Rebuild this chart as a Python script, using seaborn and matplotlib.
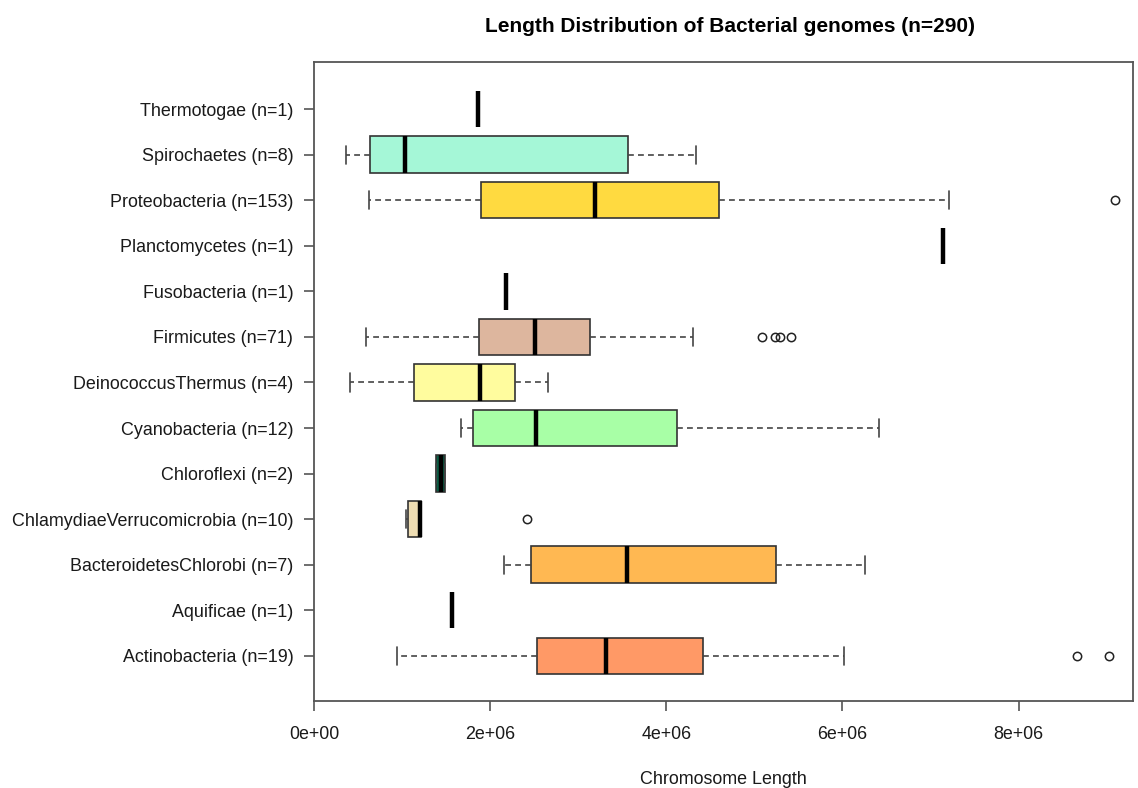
import matplotlib
matplotlib.use("Agg")
import matplotlib.pyplot as plt
from matplotlib.ticker import FuncFormatter
import seaborn as sns

# groups, bottom to top
groups = ["Actinobacteria (n=19)", "Aquificae (n=1)", "BacteroidetesChlorobi (n=7)",
          "ChlamydiaeVerrucomicrobia (n=10)", "Chloroflexi (n=2)", "Cyanobacteria (n=12)",
          "DeinococcusThermus (n=4)", "Firmicutes (n=71)", "Fusobacteria (n=1)",
          "Planctomycetes (n=1)", "Proteobacteria (n=153)", "Spirochaetes (n=8)",
          "Thermotogae (n=1)"]

# box statistics (in bp)
whislo = [0.936e6, 1.561e6, 2.156e6, 1.040e6, 1.390e6, 1.667e6, 0.413e6, 0.584e6, 2.178e6, 7.148e6, 0.622e6, 0.357e6, 1.864e6]
q1 = [2.527e6, 1.561e6, 2.463e6, 1.068e6, 1.390e6, 1.800e6, 1.136e6, 1.872e6, 2.178e6, 7.148e6, 1.894e6, 0.636e6, 1.864e6]
med = [3.315e6, 1.561e6, 3.557e6, 1.200e6, 1.437e6, 2.523e6, 1.879e6, 2.504e6, 2.178e6, 7.148e6, 3.190e6, 1.031e6, 1.864e6]
q3 = [4.414e6, 1.561e6, 5.243e6, 1.212e6, 1.485e6, 4.122e6, 2.281e6, 3.129e6, 2.178e6, 7.148e6, 4.602e6, 3.568e6, 1.864e6]
whishi = [6.019e6, 1.561e6, 6.258e6, 1.212e6, 1.485e6, 6.417e6, 2.656e6, 4.307e6, 2.178e6, 7.148e6, 7.216e6, 4.338e6, 1.864e6]
fliers = [[8.663e6, 9.023e6], [], [], [2.417e6], [], [], [],
          [5.09e6, 5.235e6, 5.292e6, 5.414e6], [], [], [9.099e6], [], []]

colors = ["#FF9966", "#FFFFFF", "#FFB852", "#EEDDB3", "#0B5D45", "#A8FFA6",
          "#FFFC9E", "#DDB69E", "#FFFFFF", "#FFFFFF", "#FFDA40", "#A5F7D7", "#FFFFFF"]

sns.set_style("white")
plt.rcParams["font.family"] = ["Liberation Sans", "DejaVu Sans"]

fig = plt.figure(figsize=(11.38, 7.88), dpi=100)
ax = fig.add_axes([0.276, 0.110, 0.7196, 0.811])

stats = []
for i in range(len(groups)):
    stats.append({"whislo": whislo[i], "q1": q1[i], "med": med[i], "q3": q3[i],
                  "whishi": whishi[i], "fliers": fliers[i], "label": groups[i]})

edge = "#333333"
bp = ax.bxp(stats, positions=range(len(groups)), widths=0.8, capwidths=0.4,
            orientation="horizontal", patch_artist=True,
            boxprops=dict(edgecolor=edge, linewidth=1.2),
            whiskerprops=dict(color="#444444", linewidth=1.2, linestyle=(0, (3.5, 2.5))),
            capprops=dict(color="#444444", linewidth=1.2),
            medianprops=dict(color="black", linewidth=3.2, solid_capstyle="butt"),
            flierprops=dict(marker="o", markerfacecolor="none", markeredgecolor="#222222",
                            markersize=6, markeredgewidth=1.1))
for patch, c in zip(bp["boxes"], colors):
    patch.set_facecolor(c)

ax.set_xlim(0, 9.30e6)
ax.set_ylim(-1.0, 13.03)
ax.set_xticks([0, 2e6, 4e6, 6e6, 8e6])
ax.xaxis.set_major_formatter(FuncFormatter(lambda v, p: f"{v:.0e}"))
ax.set_yticks(range(len(groups)))
ax.set_yticklabels(groups)

for s in ax.spines.values():
    s.set_color("#555555")
    s.set_linewidth(1.3)
    s.set_visible(True)
ax.tick_params(axis="both", which="major", direction="out", length=7, width=1.2,
               color="#555555", labelsize=12.9, labelcolor="#1a1a1a",
               bottom=True, left=True)
ax.tick_params(axis="x", pad=11)
ax.tick_params(axis="y", pad=8)
ax.set_ylabel("")
ax.set_xlabel("Chromosome Length", fontsize=12.9, labelpad=20, color="#1a1a1a")
ax.set_title("Length Distribution of Bacterial genomes (n=290)", fontsize=15,
             fontweight="bold", pad=22, color="black", x=0.508)

fig.savefig("out.png", dpi=100)
